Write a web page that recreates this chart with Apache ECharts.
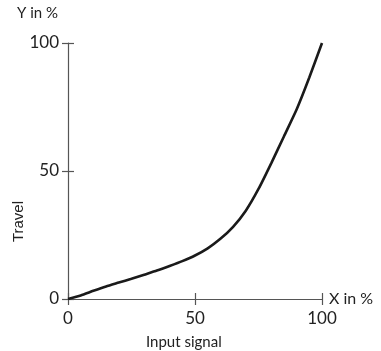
<!DOCTYPE html>
<html>
<head>
<meta charset="utf-8">
<script src="https://cdn.jsdelivr.net/npm/echarts@6/dist/echarts.min.js"></script>
<style>
  html, body { margin: 0; padding: 0; background: #fff; }
  #chart { width: 381px; height: 351px; }
</style>
</head>
<body>
<div id="chart"></div>
<script>
// input signal (%) and resulting travel (%)
const inputSignal = [0, 5, 10, 15, 20, 25, 30, 35, 40, 45, 50, 55, 60, 65, 70, 75, 80, 85, 90, 95, 100];
const travel = [0, 1.4, 3.2, 4.9, 6.4, 7.9, 9.5, 11.1, 12.9, 14.8, 17.0, 19.8, 23.5, 28.2, 34.5, 43.0, 53.0, 63.5, 74.0, 86.5, 100];
const tickValues = [0, 50, 100];

const font = 'Lato, "Open Sans", sans-serif';
const axisColor = '#555';

const chart = echarts.init(document.getElementById('chart'));

// ticks that cross the axis at its far end (value 100 only)
const endTick = (index, value) => value === tickValues[tickValues.length - 1];

const option = {
  animation: false,
  grid: { left: 68, right: 59, top: 43, bottom: 52 },
  xAxis: [{
    type: 'value', min: 0, max: 100, interval: 50,
    name: 'X in %', nameLocation: 'end', nameGap: 7,
    nameTextStyle: { fontFamily: font, fontSize: 16, color: '#222', padding: [0, 0, 2, 0] },
    axisLine: { show: true, lineStyle: { color: axisColor, width: 1.2 } },
    axisTick: { show: true, length: 6, lineStyle: { color: axisColor, width: 1.2 } },
    axisLabel: { fontFamily: font, fontSize: 17, color: '#222', margin: 11 },
    splitLine: { show: false }
  }, {
    type: 'value', min: 0, max: 100, interval: 50, position: 'bottom',
    axisLine: { show: false },
    axisTick: { show: true, inside: true, length: 6, interval: endTick, lineStyle: { color: axisColor, width: 1.2 } },
    axisLabel: { show: false },
    splitLine: { show: false }
  }],
  yAxis: [{
    type: 'value', min: 0, max: 100, interval: 50,
    axisLine: { show: true, lineStyle: { color: axisColor, width: 1.2 } },
    axisTick: { show: true, length: 6, lineStyle: { color: axisColor, width: 1.2 } },
    axisLabel: { fontFamily: font, fontSize: 17, color: '#222', margin: 9 },
    splitLine: { show: false }
  }, {
    type: 'value', min: 0, max: 100, interval: 50, position: 'left',
    axisLine: { show: false },
    axisTick: { show: true, inside: true, length: 6, interval: endTick, lineStyle: { color: axisColor, width: 1.2 } },
    axisLabel: { show: false },
    splitLine: { show: false }
  }],
  graphic: [
    { type: 'text', left: 17, top: 6, style: { text: 'Y in %', font: '15px ' + font, fill: '#222' } },
    { type: 'text', left: 146, top: 335, style: { text: 'Input signal', font: '15px ' + font, fill: '#222' } },
    { type: 'text', left: 11, top: 201, rotation: Math.PI / 2, style: { text: 'Travel', font: '15px "Liberation Sans", Arial, sans-serif', fill: '#222' } }
  ],
  series: [{
    type: 'line',
    smooth: 0.2,
    symbol: 'none',
    data: inputSignal.map((x, i) => [x, travel[i]]),
    lineStyle: { color: '#1a1a1a', width: 2.6 }
  }]
};

chart.setOption(option);
</script>
</body>
</html>
